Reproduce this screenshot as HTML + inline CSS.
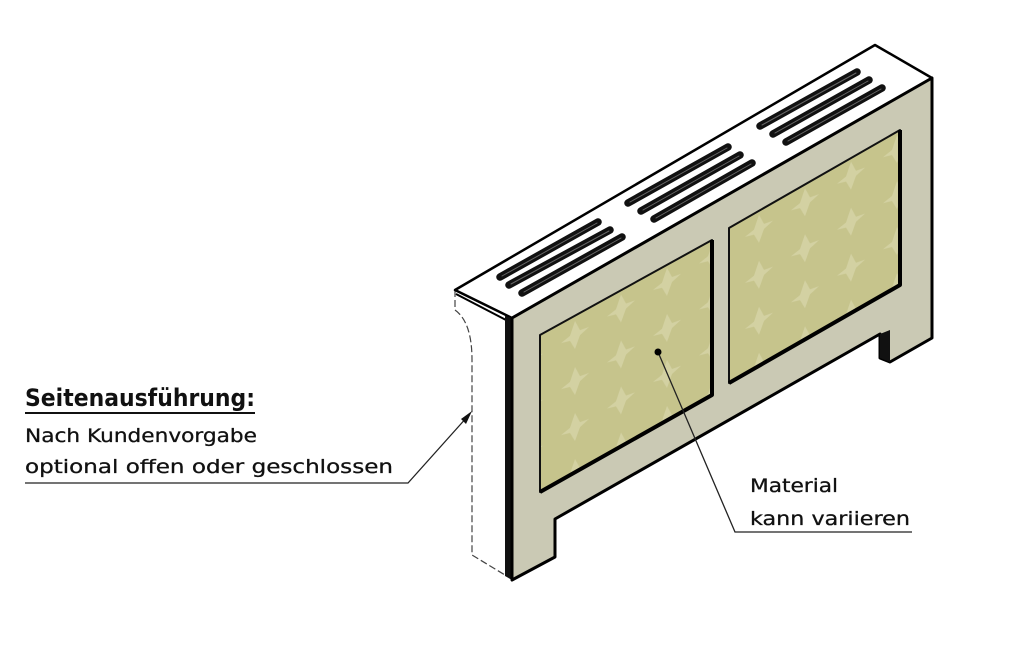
<!DOCTYPE html>
<html><head><meta charset="utf-8"><style>
html,body{margin:0;padding:0;background:#fff;}
svg{display:block;}
text{font-family:"DejaVu Sans","Liberation Sans",sans-serif;fill:#111;}
</style></head><body>
<svg width="1035" height="645" viewBox="0 0 1035 645" xmlns="http://www.w3.org/2000/svg">
<defs>
<pattern id="pp" width="46" height="46" patternUnits="userSpaceOnUse" patternTransform="skewY(-30)">
<rect width="46" height="46" fill="#c6c48c"/>
<path d="M23 9 L28 21 L37 23 L28 26 L23 37 L18 26 L9 23 L18 21Z" fill="#d6d5a8" opacity="0.8"/>
</pattern>
</defs>
<path d="M455 290 L455 310 Q472 322 472 360 L472 555 L505 575 L505 315 Z" fill="#fff"/>
<path d="M455 290 L455 310 Q472 322 472 360 L472 555 L505 575" fill="none" stroke="#444" stroke-width="1.2" stroke-dasharray="7,3"/>
<path d="M455 290 L875 45 L932 78 L512 318 Z" fill="#fff" stroke="#000" stroke-width="2.5" stroke-linejoin="round"/>
<path d="M456 294 L506 320" stroke="#000" stroke-width="2"/>
<path d="M505 316 L512 318 L512 580 L505 576 Z" fill="#111"/>
<path d="M512 318 L932 78 L932 338 L890 362 L880 358 L880 334 L555 519 L555 557 L512 580 Z" fill="#cac9b4" stroke="#000" stroke-width="3" stroke-linejoin="round"/>
<path d="M880 334 L880 358 L890 362 L890 330 Z" fill="#111"/>
<path d="M540 335 L712 240 L712 395 L540 492 Z" fill="url(#pp)" stroke="#111" stroke-width="2" stroke-linejoin="round"/>
<path d="M712 240 L712 395 L540 492" fill="none" stroke="#000" stroke-width="4" stroke-linejoin="round"/>
<path d="M729 228 L900 130 L900 285 L729 383 Z" fill="url(#pp)" stroke="#111" stroke-width="2" stroke-linejoin="round"/>
<path d="M900 130 L900 285 L729 383" fill="none" stroke="#000" stroke-width="4" stroke-linejoin="round"/>
<g stroke="#111" stroke-width="7.5" stroke-linecap="round">
<path d="M500 277 L598 222 M509 285 L610 230 M522 293 L622 237"/>
<path d="M628 203 L728 147 M641 211 L740 155 M654 219 L752 163"/>
<path d="M760 126 L857 72 M773 134 L869 80 M786 142 L882 88"/>
</g>
<g stroke="#666" stroke-width="1" stroke-linecap="round">
<path d="M502 276 L597 223 M511 284 L609 231 M524 292 L621 238"/>
<path d="M630 202 L727 148 M643 210 L739 156 M656 218 L751 164"/>
<path d="M762 125 L856 73 M775 133 L868 81 M788 141 L881 89"/>
</g>
<path d="M25 483 L408 483 L468 416" fill="none" stroke="#222" stroke-width="1.3"/>
<path d="M472 411 L461 419 L466 424 Z" fill="#111"/>
<path d="M912 532 L735 532 L658 352" fill="none" stroke="#222" stroke-width="1.3"/>
<circle cx="658" cy="352" r="3.5" fill="#000"/>
<text x="25" y="406" font-size="24" font-weight="bold" textLength="230" lengthAdjust="spacingAndGlyphs">Seitenausführung:</text>
<line x1="25" y1="413" x2="255" y2="413" stroke="#111" stroke-width="2"/>
<text x="25" y="442" font-size="19" textLength="232" lengthAdjust="spacingAndGlyphs" style="stroke:#111;stroke-width:0.3">Nach Kundenvorgabe</text>
<text x="25" y="473" font-size="19" textLength="368" lengthAdjust="spacingAndGlyphs" style="stroke:#111;stroke-width:0.3">optional offen oder geschlossen</text>
<text x="750" y="492" font-size="19" textLength="88" lengthAdjust="spacingAndGlyphs" style="stroke:#111;stroke-width:0.3">Material</text>
<text x="750" y="525" font-size="19" textLength="160" lengthAdjust="spacingAndGlyphs" style="stroke:#111;stroke-width:0.3">kann variieren</text>
</svg>
</body></html>
